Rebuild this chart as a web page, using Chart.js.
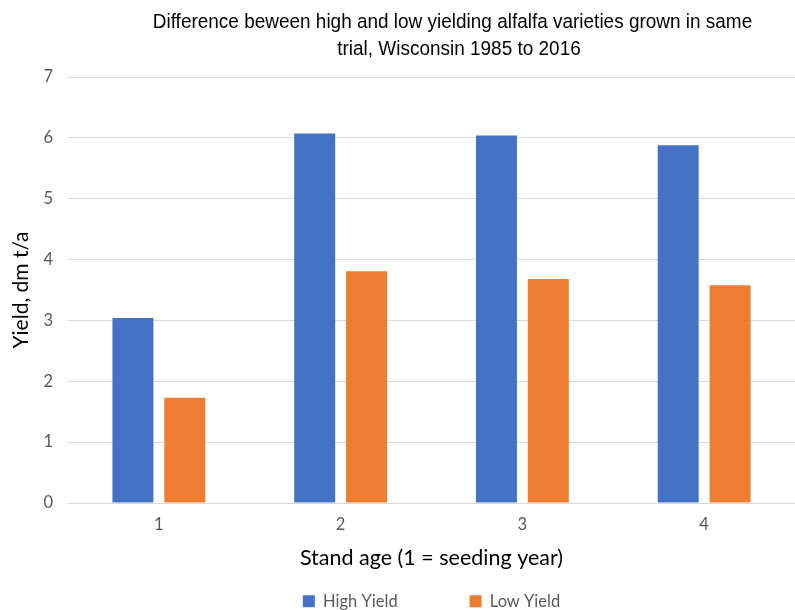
<!DOCTYPE html>
<html>
<head>
<meta charset="utf-8">
<script src="https://cdn.jsdelivr.net/npm/chart.js@4/dist/chart.umd.min.js"></script>
<style>
  html, body { margin: 0; padding: 0; background: #ffffff; }
  #wrap { width: 795px; height: 610px; }
</style>
</head>
<body>
<div id="wrap"><canvas id="chart" width="795" height="610"></canvas></div>
<script>
// Stand age categories and yields (dm t/a)
const standAges = ['1', '2', '3', '4'];
const highYield = [3.04, 6.07, 6.04, 5.88];
const lowYield = [1.73, 3.81, 3.68, 3.58];
const yTicks = [0, 1, 2, 3, 4, 5, 6, 7];
const seriesNames = ['High Yield', 'Low Yield'];
const titleLines = [
  'Difference beween high and low yielding alfalfa varieties grown in same',
  'trial, Wisconsin 1985 to 2016'
];

const BODY_FONT = 'Lato, "Open Sans", sans-serif';
const ARIAL_FONT = '"Liberation Sans", Arial, sans-serif';

// Two-line chart title drawn above the plot (slightly condensed Arial)
const titlePlugin = {
  id: 'twoLineTitle',
  afterDraw(chart) {
    const ctx = chart.ctx;
    const squeeze = 0.925;
    ctx.save();
    ctx.fillStyle = '#000000';
    ctx.font = '20.5px ' + ARIAL_FONT;
    ctx.textAlign = 'center';
    ctx.textBaseline = 'alphabetic';
    ctx.scale(squeeze, 1);
    ctx.fillText(titleLines[0], 452.5 / squeeze, 27.5);
    ctx.fillText(titleLines[1], 459 / squeeze, 55);
    ctx.restore();
  }
};

new Chart(document.getElementById('chart'), {
  type: 'bar',
  data: {
    labels: standAges,
    datasets: [
      { label: seriesNames[0], data: highYield, backgroundColor: '#4472C4' },
      { label: seriesNames[1], data: lowYield, backgroundColor: '#ED7D31' }
    ]
  },
  options: {
    responsive: false,
    animation: false,
    devicePixelRatio: 1,
    layout: { padding: { top: 77, right: 0, bottom: 0, left: 0 } },
    datasets: {
      bar: { categoryPercentage: 0.571, barPercentage: 0.79 }
    },
    scales: {
      x: {
        grid: { display: false, drawTicks: false },
        border: { display: false },
        ticks: { color: '#595959', font: { family: BODY_FONT, size: 16.5 }, padding: 12 },
        title: {
          display: true,
          text: 'Stand age (1 = seeding year)',
          color: '#000000',
          font: { family: BODY_FONT, size: 21.5 },
          padding: { top: 4, bottom: 12 }
        },
        afterFit(scale) { scale.height = 80; }
      },
      y: {
        min: 0,
        max: 7,
        afterBuildTicks(scale) { scale.ticks = yTicks.map(v => ({ value: v })); },
        grid: { color: '#d9d9d9', lineWidth: 1, drawTicks: false },
        border: { display: false },
        ticks: { color: '#595959', font: { family: BODY_FONT, size: 16.5 }, padding: 15 },
        title: {
          display: true,
          text: 'Yield, dm t/a',
          color: '#000000',
          font: { family: BODY_FONT, size: 21 },
          padding: { top: 9, bottom: 0 }
        },
        afterFit(scale) { scale.width = 68; }
      }
    },
    plugins: {
      title: { display: false },
      tooltip: { enabled: false },
      legend: {
        position: 'bottom',
        fullSize: false,
        maxHeight: 27,
        labels: {
          boxWidth: 12,
          boxHeight: 12,
          padding: 10,
          color: '#595959',
          font: { family: BODY_FONT, size: 16.5 },
          generateLabels(chart) {
            const items = Chart.defaults.plugins.legend.labels.generateLabels(chart);
            // widen the gap after the first entry
            if (items.length) items[0].text = items[0].text + '\u2003\u2003\u2003\u2003\u2003';
            return items;
          }
        }
      }
    }
  },
  plugins: [titlePlugin]
});
</script>
</body>
</html>
